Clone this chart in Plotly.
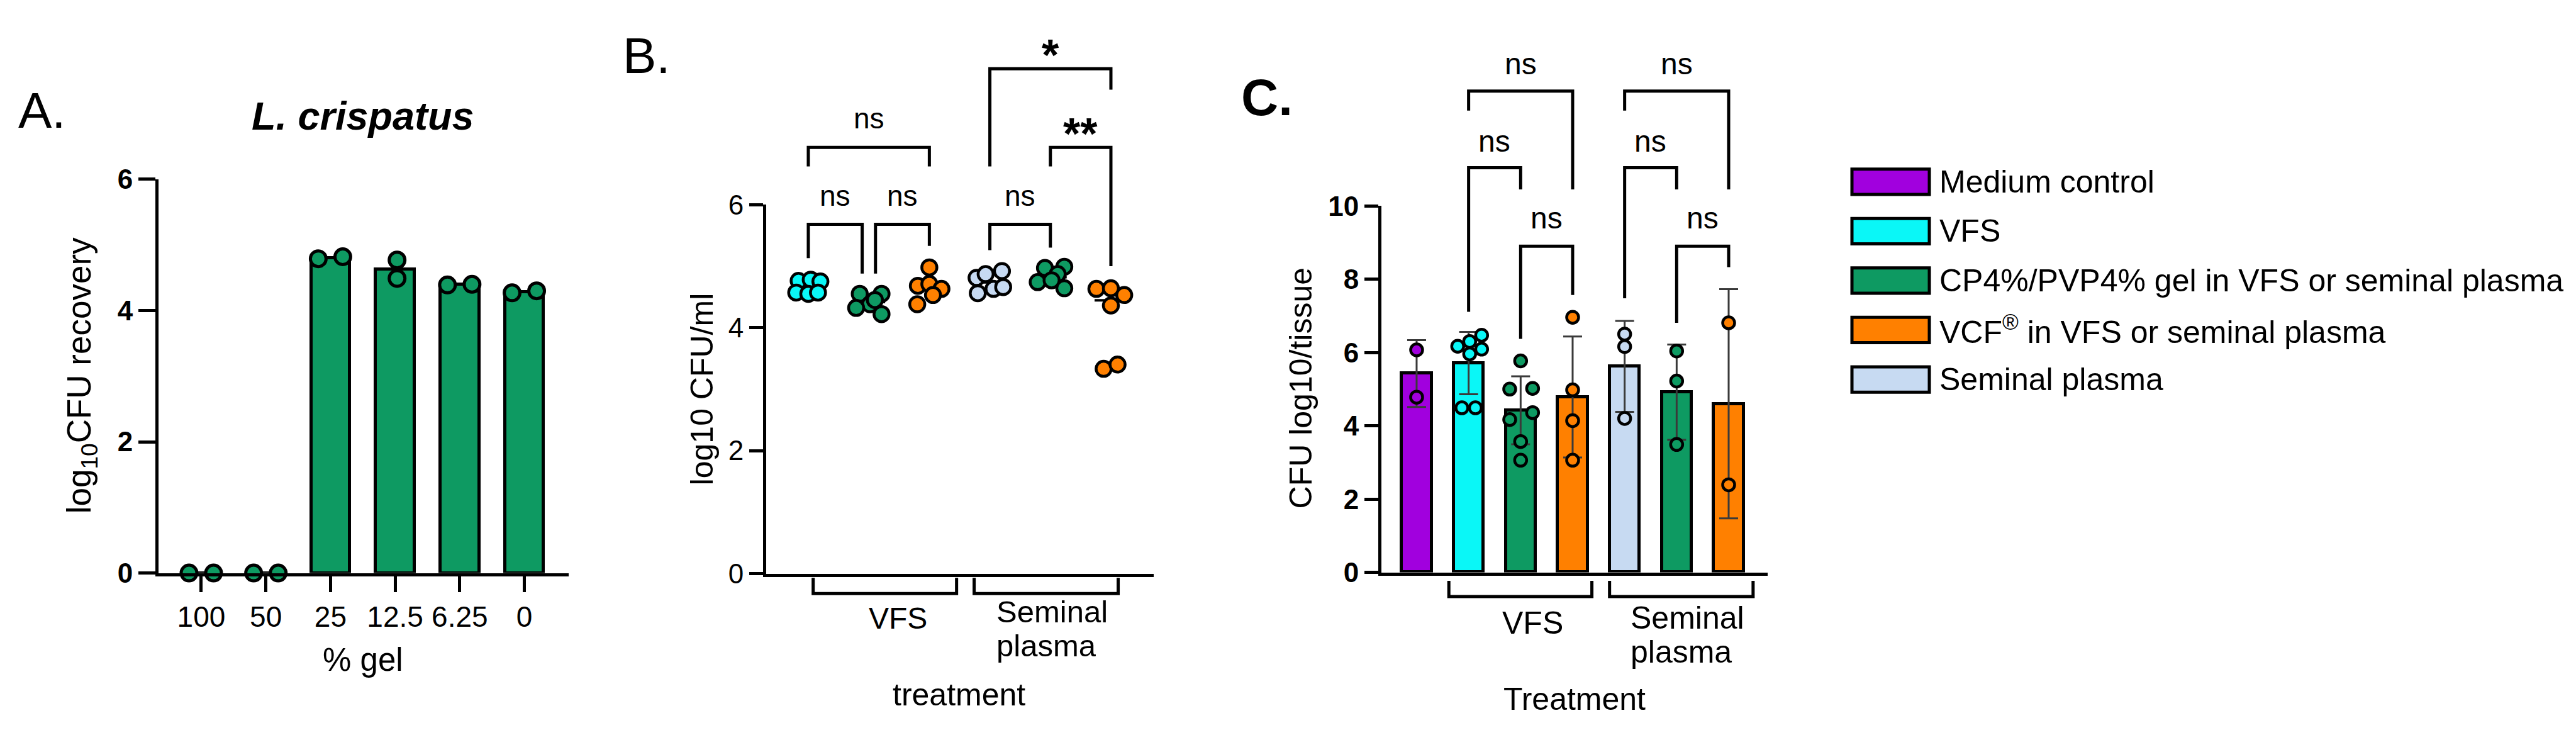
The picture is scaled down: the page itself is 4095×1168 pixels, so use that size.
import numpy as np
import plotly.graph_objects as go

W, H = 4095, 1168
FONT = "Liberation Sans, Arial, sans-serif"

# ------------------------------------------------------------------ data
# Panel A : L. crispatus recovery vs % gel
a_categories = ["100", "50", "25", "12.5", "6.25", "0"]
a_rep1 = [0.0, 0.0, 4.79, 4.77, 4.39, 4.27]
a_rep2 = [0.0, 0.0, 4.82, 4.49, 4.40, 4.30]
a_jit1 = [-0.19, -0.19, -0.19, 0.03, -0.19, -0.19]
a_jit2 = [0.19, 0.19, 0.19, 0.03, 0.19, 0.19]

# Panel B : log10 CFU/ml (six replicates per group)
b_groups = ["VFS", "CP4%/PVP4% gel in VFS", "VCF in VFS",
            "Seminal plasma", "CP4%/PVP4% gel in seminal plasma", "VCF in seminal plasma"]
b_vfs = [4.76, 4.78, 4.75, 4.57, 4.55, 4.57]
b_gel_vfs = [4.55, 4.55, 4.38, 4.32, 4.22, 4.45]
b_vcf_vfs = [4.98, 4.68, 4.71, 4.63, 4.53, 4.38]
b_sp = [4.81, 4.87, 4.92, 4.56, 4.63, 4.66]
b_gel_sp = [4.97, 4.99, 4.87, 4.74, 4.77, 4.64]
b_vcf_sp = [4.63, 4.64, 4.53, 4.36, 3.33, 3.40]
b_jit_vfs = [-0.16, 0.04, 0.20, -0.20, 0.00, 0.16]
b_jit_gel_vfs = [-0.15, 0.21, 0.02, -0.21, 0.21, 0.10]
b_jit_vcf_vfs = [0.00, -0.19, 0.00, 0.20, 0.06, -0.20]
b_jit_sp = [-0.22, -0.07, 0.20, -0.20, 0.06, 0.22]
b_jit_gel_sp = [-0.09, 0.23, 0.12, -0.21, 0.02, 0.23]
b_jit_vcf_sp = [-0.24, 0.00, 0.22, 0.00, -0.12, 0.11]
# comparisons: (x_left, x_right, label, top, left leg end, right leg end, label level)
b_tests = [
    (0.00, 0.89, "ns", 5.68, 5.13, 4.88, 6.15),
    (1.11, 2.00, "ns", 5.68, 4.88, 5.33, 6.15),
    (0.00, 2.00, "ns", 6.93, 6.62, 6.62, 7.40),
    (3.00, 4.00, "ns", 5.68, 5.26, 5.30, 6.15),
    (4.00, 5.00, "**", 6.93, 6.62, 5.00, 7.35),
    (3.00, 5.00, "*", 8.21, 6.62, 7.87, 8.63),
]

# Panel C : CFU log10/tissue
c_groups = ["Medium control", "VFS", "CP4%/PVP4% gel in VFS or seminal plasma",
            "VCF<sup>®</sup> in VFS or seminal plasma", "Seminal plasma"]
c_medium = [6.07, 4.78]
c_vfs = [6.17, 6.30, 6.47, 5.96, 6.09, 4.49, 4.49]
c_gel_vfs = [5.77, 5.00, 5.02, 4.17, 4.36, 3.57, 3.06]
c_vcf_vfs = [6.96, 4.98, 4.14, 3.06]
c_sp = [6.50, 6.16, 4.20]
c_gel_sp = [6.04, 5.22, 3.49]
c_vcf_sp = [6.81, 2.39]
c_jit_vfs = [-0.21, 0.02, 0.25, 0.02, 0.25, -0.13, 0.13]
c_jit_gel_vfs = [0.00, -0.21, 0.23, -0.21, 0.23, 0.00, 0.00]
c_tests = [
    (1, 3, "ns", 13.13, 12.60, 10.45, 13.88),
    (1, 2, "ns", 11.04, 7.11, 10.45, 11.76),
    (2, 3, "ns", 8.90, 6.37, 7.57, 9.66),
    (4, 6, "ns", 13.13, 12.60, 10.45, 13.88),
    (4, 5, "ns", 11.04, 7.48, 10.45, 11.76),
    (5, 6, "ns", 8.90, 6.81, 8.33, 9.66),
]

# ------------------------------------------------------------------ styles
GREEN = "#0E9A62"
CYAN = "#0AF7F7"
PURPLE = "#A100DE"
ORANGE = "#FF8000"
LBLUE = "#C7DAF2"
LW = 5

# pixel geometry of the three panels
GEO = {
    "A": dict(x0=244, x1=896, y0=916, yt=263, vmax=6, xr=[-0.662, 5.686]),
    "B": dict(x0=1210, x1=1826, y0=917, yt=305, vmax=6, xr=[-0.696, 5.707]),
    "C": dict(x0=2188, x1=2802, y0=915, yt=307, vmax=10, xr=[-0.677, 6.75]),
}


def py(p):
    return 1 - p / H


def px(p):
    return p / W


def yv(panel, v):
    g = GEO[panel]
    return py(g["y0"] - (g["y0"] - g["yt"]) * v / g["vmax"])


fig = go.Figure()

# ------------------------------------------------------------------ panel A
a_mean = [(p + q) / 2 for p, q in zip(a_rep1, a_rep2)]
xa = list(range(len(a_categories)))
fig.add_trace(go.Bar(x=xa, y=a_mean, width=0.60, marker=dict(color=GREEN, line=dict(color="black", width=LW)),
                     xaxis="x", yaxis="y", showlegend=False))
fig.add_trace(go.Scatter(x=[i + j for i, j in zip(xa, a_jit1)] + [i + j for i, j in zip(xa, a_jit2)],
                         y=a_rep1 + a_rep2, mode="markers", cliponaxis=False,
                         marker=dict(size=25, color=GREEN, line=dict(color="black", width=5)),
                         xaxis="x", yaxis="y", showlegend=False))

# ------------------------------------------------------------------ panel B
b_vals = [b_vfs, b_gel_vfs, b_vcf_vfs, b_sp, b_gel_sp, b_vcf_sp]
b_jits = [b_jit_vfs, b_jit_gel_vfs, b_jit_vcf_vfs, b_jit_sp, b_jit_gel_sp, b_jit_vcf_sp]
b_cols = [CYAN, GREEN, ORANGE, LBLUE, GREEN, ORANGE]
for i, (vals, jit, col) in enumerate(zip(b_vals, b_jits, b_cols)):
    med = float(np.median(vals))
    fig.add_trace(go.Scatter(x=[i - 0.27, i + 0.27], y=[med, med], mode="lines",
                             line=dict(color="black", width=4), xaxis="x2", yaxis="y2", showlegend=False))
    fig.add_trace(go.Scatter(x=[i + j for j in jit], y=vals, mode="markers", cliponaxis=False,
                             marker=dict(size=24, color=col, line=dict(color="black", width=4.5)),
                             xaxis="x2", yaxis="y2", showlegend=False))

# ------------------------------------------------------------------ panel C
c_vals = [c_medium, c_vfs, c_gel_vfs, c_vcf_vfs, c_sp, c_gel_sp, c_vcf_sp]
c_cols = [PURPLE, CYAN, GREEN, ORANGE, LBLUE, GREEN, ORANGE]
c_jits = [None, c_jit_vfs, c_jit_gel_vfs, None, None, None, None]
c_mean = [float(np.mean(v)) for v in c_vals]
c_sd = [float(np.std(v, ddof=1)) for v in c_vals]
xc = list(range(len(c_vals)))
fig.add_trace(go.Bar(x=xc, y=c_mean, width=0.57,
                     marker=dict(color=c_cols, line=dict(color="black", width=LW)),
                     error_y=dict(type="data", array=c_sd, visible=True, color="#3a3a3a", thickness=3, width=15),
                     xaxis="x3", yaxis="y3", showlegend=False))
for i, (vals, col, jit) in enumerate(zip(c_vals, c_cols, c_jits)):
    jit = jit if jit is not None else [0.0] * len(vals)
    fig.add_trace(go.Scatter(x=[i + j for j in jit], y=vals, mode="markers", cliponaxis=False,
                             marker=dict(size=19, color=col, line=dict(color="black", width=4.5)),
                             xaxis="x3", yaxis="y3", showlegend=False))


# ------------------------------------------------------------------ axes
def xaxis(panel, **kw):
    g = GEO[panel]
    d = dict(domain=[px(g["x0"]), px(g["x1"])], range=g["xr"], showgrid=False, zeroline=False,
             showline=True, linecolor="black", linewidth=LW, fixedrange=True)
    d.update(kw)
    return d


def yaxis(panel, anchor, bold, **kw):
    g = GEO[panel]
    d = dict(domain=[py(g["y0"]), py(g["yt"])], range=[0, g["vmax"]], anchor=anchor,
             showgrid=False, zeroline=False, showline=True, linecolor="black", linewidth=LW,
             ticks="outside", ticklen=25, tickwidth=LW, tickcolor="black",
             tickfont=dict(family=FONT, size=44, color="black", weight="bold" if bold else "normal"),
             fixedrange=True)
    d.update(kw)
    return d


fig.update_layout(
    width=W, height=H, margin=dict(l=0, r=0, t=0, b=0),
    paper_bgcolor="white", plot_bgcolor="white", bargap=0,
    font=dict(family=FONT, color="black"),
    xaxis=xaxis("A", anchor="y", tickvals=xa, ticktext=a_categories, ticks="outside", ticklen=25,
                tickwidth=LW, tickcolor="black", tickfont=dict(family=FONT, size=46, color="black")),
    yaxis=yaxis("A", "x", True, tickvals=[0, 2, 4, 6], ticklen=27),
    xaxis2=xaxis("B", anchor="y2", showticklabels=False, ticks=""),
    yaxis2=yaxis("B", "x2", False, tickvals=[0, 2, 4, 6], ticklen=22),
    xaxis3=xaxis("C", anchor="y3", showticklabels=False, ticks=""),
    yaxis3=yaxis("C", "x3", True, tickvals=[0, 2, 4, 6, 8, 10], ticklen=22),
)

shapes = []
annots = []


def text(x, y, s, size=48, xref="paper", xanchor="center", yanchor="middle", angle=0, yshift=0):
    annots.append(dict(x=x, y=y, xref=xref, yref="paper", text=s, showarrow=False, xanchor=xanchor,
                       yanchor=yanchor, textangle=angle, yshift=yshift,
                       font=dict(family=FONT, size=size, color="black")))


def bracket(panel, xref, xl, xr, top, lb, rb):
    path = "M {},{} L {},{} L {},{} L {},{}".format(xl, yv(panel, lb), xl, yv(panel, top),
                                                xr, yv(panel, top), xr, yv(panel, rb))
    shapes.append(dict(type="path", path=path, xref=xref, yref="paper",
                       line=dict(color="black", width=LW), layer="above"))


for (xl, xr, lab, top, lb, rb, ty) in b_tests:
    bracket("B", "x2", xl, xr, top, lb, rb)
    if lab == "ns":
        text((xl + xr) / 2, yv("B", ty), lab, 46, xref="x2")
    else:
        text((xl + xr) / 2, yv("B", ty), "<b>" + lab + "</b>", 70, xref="x2", yshift=-20)

for (il, ir, lab, top, lb, rb, ty) in c_tests:
    bracket("C", "x3", il, ir, top, lb, rb)
    text((il + ir) / 2, yv("C", ty), lab, 48, xref="x3")


# grouping brackets under the x axes
def group_bracket(xref, xl, xr, y_top_px, y_bot_px):
    path = "M {},{} L {},{} L {},{} L {},{}".format(xl, py(y_top_px), xl, py(y_bot_px),
                                                xr, py(y_bot_px), xr, py(y_top_px))
    shapes.append(dict(type="path", path=path, xref=xref, yref="paper",
                       line=dict(color="black", width=LW)))


group_bracket("x2", 0.08, 2.45, 924, 950)
group_bracket("x2", 2.74, 5.12, 924, 950)
group_bracket("x3", 0.62, 3.37, 929, 955)
group_bracket("x3", 3.71, 6.47, 929, 955)

# panel letters and titles
text(px(19), py(149), "A.", 80, xanchor="left")
text(px(980), py(58), "B.", 80, xanchor="left")
text(px(1963), py(127), "<b>C.</b>", 82, xanchor="left")
text(px(569), py(158), "<b><i>L. crispatus</i></b>", 63)

# axis titles
text(px(121), py(589), "log<sub>10</sub>CFU recovery", 53, angle=-90)
text(px(569), py(1060), "% gel", 51)
text(px(1108), py(611), "log10 CFU/ml", 50, angle=-90)
text(1.48, py(991), "VFS", 48, xref="x2")
text(3.09, py(980), "Seminal", 49, xref="x2", xanchor="left")
text(3.09, py(1036), "plasma", 49, xref="x2", xanchor="left")
text(2.49, py(1118), "treatment", 50, xref="x2")
text(px(2060), py(609), "CFU log10/tissue", 50, angle=-90)
text(2.23, py(999), "VFS", 50, xref="x3")
text(4.09, py(991), "Seminal", 50, xref="x3", xanchor="left")
text(4.09, py(1047), "plasma", 50, xref="x3", xanchor="left")
text(3.04, py(1125), "Treatment", 50, xref="x3")

# legend for panel C
leg_cols = [PURPLE, CYAN, GREEN, ORANGE, LBLUE]
for k, (name, col) in enumerate(zip(c_groups, leg_cols)):
    yc = 267 + 82 * k
    shapes.append(dict(type="rect", xref="paper", yref="paper", x0=px(2936), x1=px(3059),
                       y0=py(yc + 21), y1=py(yc - 21), fillcolor=col, line=dict(color="black", width=LW)))
    text(px(3073), py(yc), name, 50, xanchor="left")

fig.update_layout(shapes=shapes, annotations=annots)
fig.write_html("out.html")
